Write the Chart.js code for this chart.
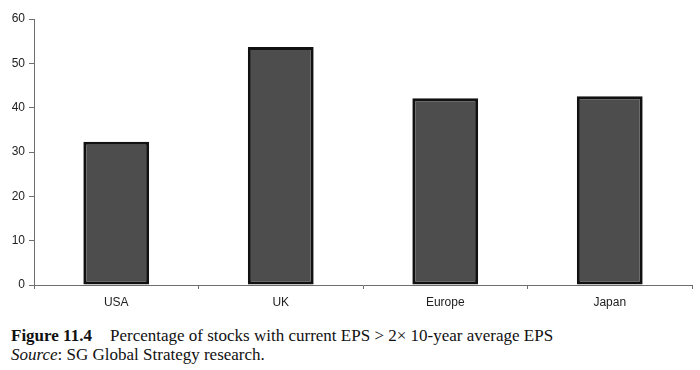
<!DOCTYPE html>
<html>
<head>
<meta charset="utf-8">
<script src="https://cdn.jsdelivr.net/npm/chart.js@4/dist/chart.umd.min.js"></script>
<style>
  body { margin: 0; background: #fff; width: 700px; height: 370px; position: relative; overflow: hidden; }
  #wrap { position: absolute; left: 0; top: 0; width: 700px; height: 310px; }
  .cap { position: absolute; left: 11px; font-family: "Liberation Serif", "Times New Roman", serif; font-size: 17px; line-height: 20px; color: #111; white-space: nowrap; }
  .cap b { display: inline-block; width: 99px; }
</style>
</head>
<body>
<div id="wrap"><canvas id="eps-chart" width="700" height="310"></canvas></div>
<div class="cap" style="top:326px"><b>Figure 11.4</b>Percentage of stocks with current EPS &gt; 2&times; 10-year average EPS</div>
<div class="cap" style="top:345px"><i>Source</i>: SG Global Strategy research.</div>
<script>
// Categories and values
let regions = ['USA', 'UK', 'Europe', 'Japan']
let pctAboveAvg = [32.3, 53.7, 42.1, 42.6]
let yTicks = [0, 10, 20, 30, 40, 50, 60]

let axisColor = '#6e6e6e'
let labelFont = { family: 'Liberation Sans, Arial, sans-serif', size: 12 }

let context = document.querySelector('#eps-chart').getContext('2d')

let epsChart = new Chart(context, {
    type: 'bar',
    data: {
        labels: regions,
        datasets: [
            {
                data: pctAboveAvg,
                backgroundColor: '#4d4d4d',
                borderColor: '#111',
                borderWidth: 3,
                borderSkipped: false,
                barPercentage: 0.4,
                categoryPercentage: 1
            }
        ]
    },
    options: {
        responsive: false,
        animation: false,
        layout: { padding: { left: 0, right: 8, top: 19, bottom: 0 } },
        plugins: { legend: { display: false }, tooltip: { enabled: false } },
        scales: {
            x: {
                grid: { drawOnChartArea: false, drawTicks: true, tickLength: 4, color: axisColor, offset: true },
                border: { color: axisColor, width: 1 },
                ticks: { color: '#222', font: labelFont, padding: 6 },
                afterFit: function(scale) { scale.height = 25 }
            },
            y: {
                min: 0,
                max: 60,
                afterBuildTicks: function(scale) { scale.ticks = yTicks.map(v => ({ value: v })) },
                grid: { drawOnChartArea: false, drawTicks: true, tickLength: 5, color: axisColor },
                border: { color: axisColor, width: 1 },
                ticks: { color: '#222', font: labelFont, padding: 4 },
                afterFit: function(scale) { scale.width = 34 }
            }
        }
    }
})
</script>
</body>
</html>
